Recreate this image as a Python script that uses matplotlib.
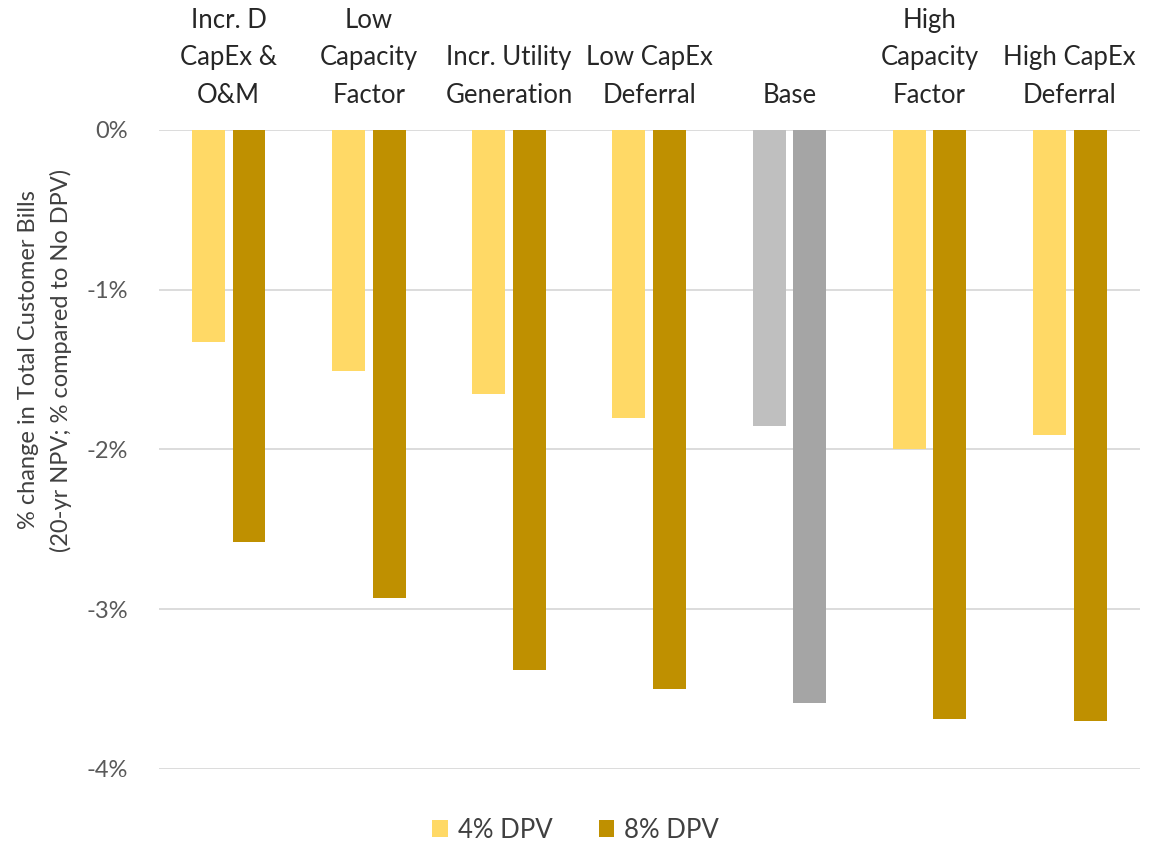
import numpy as np
import matplotlib.pyplot as plt
from matplotlib.ticker import FuncFormatter
from matplotlib.transforms import blended_transform_factory

categories = ["Incr. D\nCapEx &\nO&M", "Low\nCapacity\nFactor", "Incr. Utility\nGeneration",
              "Low CapEx\nDeferral", "Base", "High\nCapacity\nFactor", "High CapEx\nDeferral"]
dpv_4 = [-1.33, -1.51, -1.65, -1.80, -1.85, -2.00, -1.91]
dpv_8 = [-2.58, -2.93, -3.38, -3.50, -3.59, -3.69, -3.70]
yticks = [0, -1, -2, -3, -4]

c4, c8 = "#FFD966", "#BF9000"
g4, g8 = "#BFBFBF", "#A5A5A5"

plt.rcParams['font.family'] = ['Lato', 'DejaVu Sans']

fig = plt.figure(figsize=(11.49, 8.43), dpi=100)
ax = fig.add_axes([0.138, 0.0878, 0.854, 0.758])

x = np.arange(len(categories))
w = 0.235
off = 0.145
cols4 = [g4 if c == "Base" else c4 for c in categories]
cols8 = [g8 if c == "Base" else c8 for c in categories]
ax.bar(x - off, dpv_4, w, color=cols4, label="4% DPV", zorder=3)
ax.bar(x + off, dpv_8, w, color=cols8, label="8% DPV", zorder=3)

ax.set_xlim(-0.5, len(categories) - 0.5)
ax.set_ylim(-4, 0)
ax.set_yticks(yticks)
ax.yaxis.set_major_formatter(FuncFormatter(lambda v, p: f"{v:.0f}%"))
ax.tick_params(axis='y', length=0, pad=22, labelsize=17, labelcolor="#595959")
ax.set_xticks([])
ax.grid(axis='y', color="#D9D9D9", linewidth=1.3, zorder=0)
for s in ax.spines.values():
    s.set_visible(False)

# category names sit above the zero line
tr = blended_transform_factory(ax.transData, ax.transAxes)
for xi, name in zip(x, categories):
    ax.text(xi, 1.035, name, transform=tr, ha='center', va='bottom',
            fontsize=18.5, color="#262626", linespacing=1.62)

ax.set_ylabel("% change in Total Customer Bills\n(20-yr NPV; % compared to No DPV)",
              fontsize=17, color="#404040", linespacing=1.6)
ax.yaxis.set_label_coords(-0.088, 0.64)

ax.legend(loc='upper center', bbox_to_anchor=(0.425, -0.04), ncol=2, frameon=False,
          fontsize=18.5, handlelength=0.6, handleheight=0.6, columnspacing=1.8,
          handletextpad=0.4, labelcolor="#404040")

fig.savefig("out.png", dpi=100)
